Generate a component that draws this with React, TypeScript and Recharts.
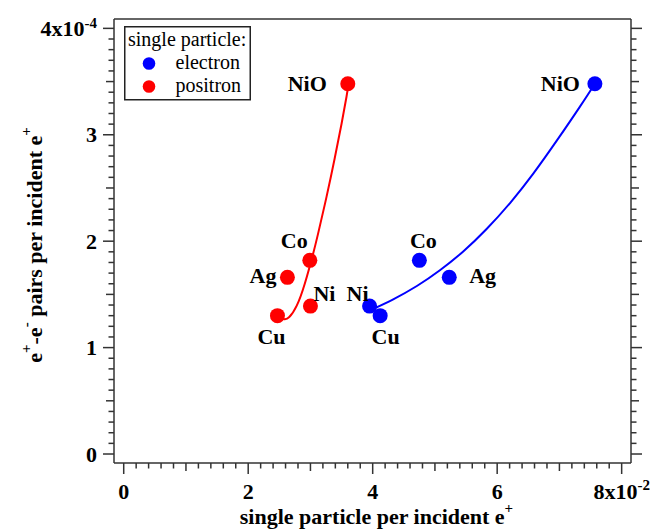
import React from 'react';
import { ComposedChart, Line, Scatter, XAxis, YAxis, Legend } from 'recharts';

// measured points
const ELEMENTS = ['NiO', 'Co', 'Ag', 'Ni', 'Cu'];
const POSITRON_X = [3.6, 2.99, 2.63, 3.0, 2.47];
const POSITRON_Y = [3.48, 1.82, 1.66, 1.39, 1.3];
const ELECTRON_X = [7.57, 4.75, 5.23, 3.95, 4.12];
const ELECTRON_Y = [3.48, 1.82, 1.66, 1.39, 1.3];

// fit curves
const POSITRON_FIT_X = [2.49, 2.58, 2.66, 2.78, 2.91, 3.04, 3.12, 3.26, 3.39, 3.5, 3.58, 3.61];
const POSITRON_FIT_Y = [1.285, 1.267, 1.287, 1.395, 1.603, 1.876, 2.064, 2.421, 2.779, 3.104, 3.36, 3.475];
const ELECTRON_FIT_X = [4.03, 4.33, 4.71, 5.08, 5.45, 5.83, 6.21, 6.58, 6.96, 7.33, 7.57];
const ELECTRON_FIT_Y = [1.37, 1.454, 1.579, 1.727, 1.901, 2.114, 2.361, 2.635, 2.947, 3.265, 3.48];

const X_LABELS = [0, 2, 4, 6, 8];
const Y_LABELS = [0, 1, 2, 3, 4];
const X_TICKS = Array.from({ length: 41 }, (_, i) => Math.round(i * 2) / 10);
const Y_TICKS = Array.from({ length: 41 }, (_, i) => i / 10);

const LEGEND_ITEMS = [
  { name: 'electron', color: '#0000FF' },
  { name: 'positron', color: '#FF0000' },
];

type Off = { dx: number; dy: number; anchor: 'start' | 'middle' | 'end' };
const POSITRON_LABELS: Record<string, Off> = {
  NiO: { dx: -21, dy: 0, anchor: 'end' },
  Co: { dx: -15.5, dy: -20, anchor: 'middle' },
  Ag: { dx: -11, dy: -1.5, anchor: 'end' },
  Ni: { dx: 3, dy: -12.7, anchor: 'start' },
  Cu: { dx: -6, dy: 20.7, anchor: 'middle' },
};
const ELECTRON_LABELS: Record<string, Off> = {
  NiO: { dx: -15, dy: 0, anchor: 'end' },
  Co: { dx: 4, dy: -20, anchor: 'middle' },
  Ag: { dx: 20, dy: -1.5, anchor: 'start' },
  Ni: { dx: -12, dy: -12.7, anchor: 'middle' },
  Cu: { dx: 5.5, dy: 20.7, anchor: 'middle' },
};

const zip = (xs: number[], ys: number[]) => xs.map((x, i) => ({ x, y: ys[i], name: ELEMENTS[i] }));
const positronData = zip(POSITRON_X, POSITRON_Y);
const electronData = zip(ELECTRON_X, ELECTRON_Y);
const positronFit = POSITRON_FIT_X.map((x, i) => ({ x, y: POSITRON_FIT_Y[i] }));
const electronFit = ELECTRON_FIT_X.map((x, i) => ({ x, y: ELECTRON_FIT_Y[i] }));

const FONT = "'Liberation Serif', 'Times New Roman', serif";
const AXIS = '#333';

const near = (a: number, b: number) => Math.abs(a - b) < 1e-6;
const xKind = (v: number) => (near(v % 2, 0) ? 2 : near(v % 1, 0) ? 1 : 0);
const yKind = (v: number) => (near(v % 1, 0) ? 2 : near(v % 0.5, 0) ? 1 : 0);
const LEN = [5.5, 8, 11];

const BottomTick = (props: any) => {
  const { x, y, payload } = props;
  const v = payload.value;
  const k = xKind(v);
  const lab = X_LABELS.find((l) => near(l, v));
  return (
    <g>
      <line x1={x} x2={x} y1={y} y2={y + LEN[k]} stroke={AXIS} strokeWidth={1.5} />
      {lab !== undefined && (
        <text x={x} y={y + 36} textAnchor="middle" fontFamily={FONT} fontWeight="bold" fontSize={22} fill="#000">
          {lab === 8 ? (
            <>
              8x10<tspan dy={-9} fontSize={15}>-2</tspan>
            </>
          ) : (
            lab
          )}
        </text>
      )}
    </g>
  );
};

const TopTick = (props: any) => {
  const { x, y, payload } = props;
  const k = xKind(payload.value);
  return <line x1={x} x2={x} y1={y} y2={y - LEN[k]} stroke={AXIS} strokeWidth={1.5} />;
};

const LeftTick = (props: any) => {
  const { x, y, payload } = props;
  const v = payload.value;
  const k = yKind(v);
  const lab = Y_LABELS.find((l) => near(l, v));
  return (
    <g>
      <line x1={x} x2={x - LEN[k]} y1={y} y2={y} stroke={AXIS} strokeWidth={1.5} />
      {lab !== undefined && (
        <text x={x - 17} y={y + 7.5} textAnchor="end" fontFamily={FONT} fontWeight="bold" fontSize={22} fill="#000">
          {lab === 4 ? (
            <>
              4x10<tspan dy={-8} fontSize={15}>-4</tspan>
            </>
          ) : (
            lab
          )}
        </text>
      )}
    </g>
  );
};

const RightTick = (props: any) => {
  const { x, y, payload } = props;
  const k = yKind(payload.value);
  return <line x1={x} x2={x + LEN[k]} y1={y} y2={y} stroke={AXIS} strokeWidth={1.5} />;
};

const XTitle = (props: any) => {
  const vb = props.viewBox;
  return (
    <text x={vb.x + vb.width / 2 + 4} y={vb.y + 61} textAnchor="middle" fontFamily={FONT} fontWeight="bold" fontSize={22} fill="#000">
      single particle per incident e<tspan dy={-11} fontSize={15}>+</tspan>
    </text>
  );
};

const YTitle = (props: any) => {
  const vb = props.viewBox;
  const cx = vb.x + 42;
  const cy = vb.y + vb.height / 2 + 4;
  return (
    <text
      x={cx}
      y={cy}
      transform={`rotate(-90 ${cx} ${cy})`}
      textAnchor="middle"
      fontFamily={FONT}
      fontWeight="bold"
      fontSize={22}
      fill="#000"
    >
      e<tspan dy={-11} fontSize={15}>+</tspan>
      <tspan dy={11}>-e</tspan>
      <tspan dy={-11} fontSize={15}>-</tspan>
      <tspan dy={11}> pairs per incident e</tspan>
      <tspan dy={-11} fontSize={15}>+</tspan>
    </text>
  );
};

const makeDot = (color: string, offsets: Record<string, Off>) => (props: any) => {
  const { cx, cy, payload } = props;
  const o = offsets[payload.name];
  return (
    <g>
      <circle cx={cx} cy={cy} r={7.5} fill={color} />
      <text
        x={cx + o.dx}
        y={cy + o.dy + 7.3}
        textAnchor={o.anchor}
        fontFamily={FONT}
        fontWeight="bold"
        fontSize={22}
        fill="#000"
      >
        {payload.name}
      </text>
    </g>
  );
};

const LegendBox = () => (
  <svg width={128} height={76} style={{ display: 'block' }}>
    <rect x={0.75} y={0.75} width={125.5} height={73} fill="#fff" stroke="#222" strokeWidth={1.5} />
    <text x={4} y={20} fontFamily={FONT} fontSize={20} fill="#000">
      single particle:
    </text>
    {LEGEND_ITEMS.map((it, i) => (
      <g key={it.name}>
        <circle cx={25} cy={37.5 + i * 23} r={6.3} fill={it.color} />
        <text x={51.5} y={42.5 + i * 23} fontFamily={FONT} fontSize={20} fill="#000">
          {it.name}
        </text>
      </g>
    ))}
  </svg>
);

export default function App() {
  return (
    <div style={{ position: 'absolute', left: 0, top: 0, width: 664, height: 532, background: '#fff' }}>
      <ComposedChart width={664} height={532} margin={{ top: 0, right: 0, bottom: 0, left: 0 }}>
        <XAxis
          xAxisId="b"
          dataKey="x"
          type="number"
          domain={[-0.156, 8.15]}
          allowDataOverflow
          ticks={X_TICKS}
          interval={0}
          height={69}
          tickSize={0}
          tickMargin={0}
          tickLine={false}
          axisLine={{ stroke: AXIS, strokeWidth: 1.5 }}
          tick={<BottomTick />}
          label={<XTitle />}
        />
        <XAxis
          xAxisId="t"
          orientation="top"
          type="number"
          domain={[-0.156, 8.15]}
          allowDataOverflow
          ticks={X_TICKS}
          interval={0}
          height={19}
          tickSize={0}
          tickMargin={0}
          tickLine={false}
          axisLine={{ stroke: AXIS, strokeWidth: 1.5 }}
          tick={<TopTick />}
        />
        <YAxis
          yAxisId="l"
          dataKey="y"
          type="number"
          domain={[-0.0845, 4.088]}
          allowDataOverflow
          ticks={Y_TICKS}
          interval={0}
          width={114}
          tickSize={0}
          tickMargin={0}
          tickLine={false}
          axisLine={{ stroke: AXIS, strokeWidth: 1.5 }}
          tick={<LeftTick />}
          label={<YTitle />}
        />
        <YAxis
          yAxisId="r"
          orientation="right"
          type="number"
          domain={[-0.0845, 4.088]}
          allowDataOverflow
          ticks={Y_TICKS}
          interval={0}
          width={33}
          tickSize={0}
          tickMargin={0}
          tickLine={false}
          axisLine={{ stroke: AXIS, strokeWidth: 1.5 }}
          tick={<RightTick />}
        />
        <Line
          xAxisId="b"
          yAxisId="l"
          data={positronFit}
          dataKey="y"
          type="natural"
          stroke="#FF0000"
          strokeWidth={2}
          dot={false}
          legendType="none"
          isAnimationActive={false}
        />
        <Line
          xAxisId="b"
          yAxisId="l"
          data={electronFit}
          dataKey="y"
          type="natural"
          stroke="#0000FF"
          strokeWidth={2}
          dot={false}
          legendType="none"
          isAnimationActive={false}
        />
        <Scatter
          xAxisId="b"
          yAxisId="l"
          name="electron"
          data={electronData}
          dataKey="y"
          fill="#0000FF"
          shape={makeDot('#0000FF', ELECTRON_LABELS)}
          isAnimationActive={false}
        />
        <Scatter
          xAxisId="b"
          yAxisId="l"
          name="positron"
          data={positronData}
          dataKey="y"
          fill="#FF0000"
          shape={makeDot('#FF0000', POSITRON_LABELS)}
          isAnimationActive={false}
        />
        <Legend
          layout="vertical"
          align="center"
          verticalAlign="middle"
          content={<LegendBox />}
          wrapperStyle={{ left: 124, top: 26, width: 128, height: 76, margin: 0, padding: 0 }}
        />
      </ComposedChart>
    </div>
  );
}
